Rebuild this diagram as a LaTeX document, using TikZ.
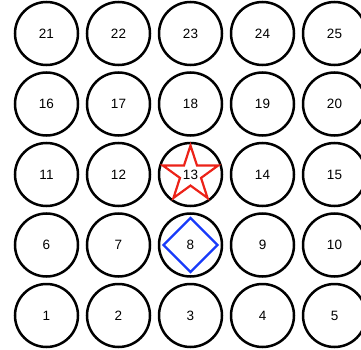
\documentclass[tikz,border=0pt]{standalone}
\usepackage{fontspec}
\setmainfont{Liberation Sans}
\usepackage{tikz}
\usetikzlibrary{shapes.geometric}

\definecolor{goalred}{RGB}{236,34,24}
\definecolor{agentblue}{RGB}{24,58,250}

\begin{document}
\begin{tikzpicture}[x=1pt,y=1pt]

	\tikzset{
		cell/.style={
				circle, draw=black, line width=2.5pt, inner sep=0pt, minimum size=63pt, font=\fontsize{13.5}{16}\selectfont
			},
		goal/.style={
				star, star points=5, star point ratio=2.618, draw=goalred, line width=2.2pt, inner sep=0pt, minimum size=58pt
			},
		agent/.style={
				diamond, draw=agentblue, line width=2.2pt, inner sep=0pt, minimum size=55pt
			},
	}
	\useasboundingbox (0,0) rectangle (361,-350);

	\foreach \k in {1,...,25}{
		\pgfmathtruncatemacro{\col}{mod(\k-1,5)}
		\pgfmathtruncatemacro{\row}{div(\k-1,5)}
		\node[cell] (c\k) at (46.5+72*\col, -315.5+70.5*\row) {\k};
	}

	\node[goal] (g13) at (c13) {};
	\node[agent] (a8) at (c8) {};

\end{tikzpicture}
\end{document}
